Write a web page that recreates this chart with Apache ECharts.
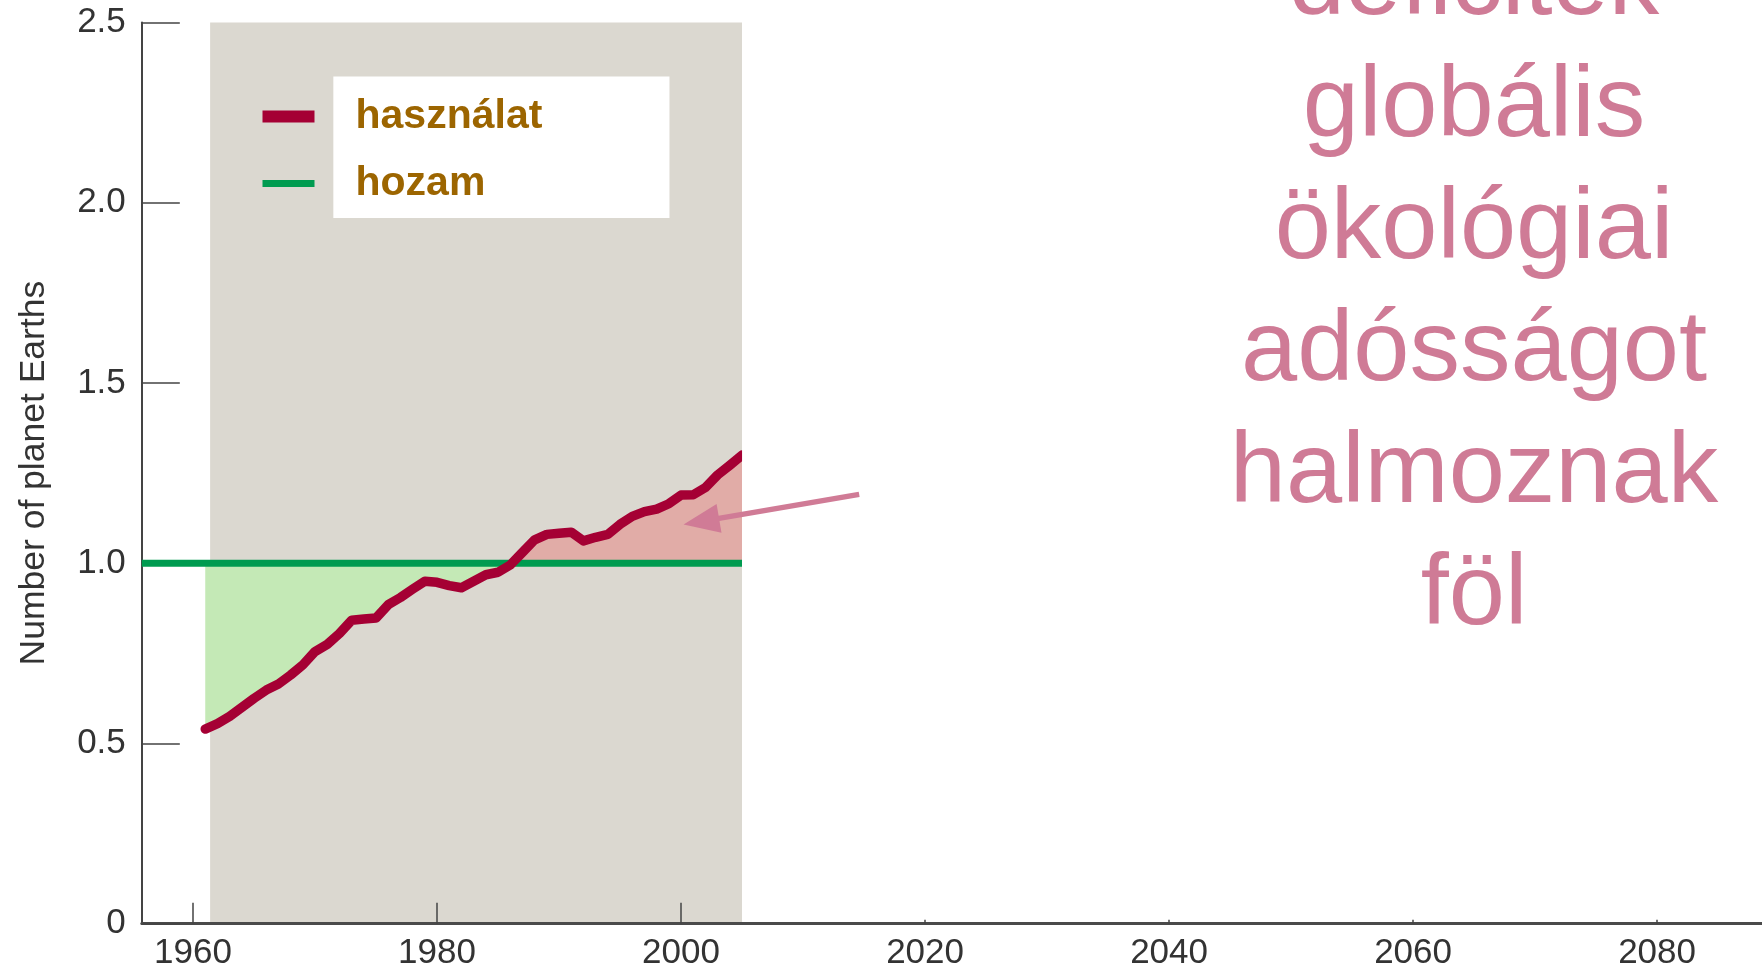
<!DOCTYPE html>
<html>
<head>
<meta charset="utf-8">
<script src="https://cdn.jsdelivr.net/npm/echarts@6/dist/echarts.min.js"></script>
<style>
  html, body { margin: 0; padding: 0; background: #ffffff; }
  #chart { width: 1762px; height: 969px; }
</style>
</head>
<body>
<div id="chart"></div>
<script>
// ---- data ----
const years = [1961,1962,1963,1964,1965,1966,1967,1968,1969,1970,
               1971,1972,1973,1974,1975,1976,1977,1978,1979,1980,
               1981,1982,1983,1984,1985,1986,1987,1988,1989,1990,
               1991,1992,1993,1994,1995,1996,1997,1998,1999,2000,
               2001,2002,2003,2004,2005];
const usage = [0.540,0.555,0.575,0.600,0.625,0.648,0.665,0.690,0.718,0.755,
               0.775,0.805,0.842,0.845,0.848,0.885,0.905,0.928,0.950,0.947,
               0.938,0.932,0.950,0.968,0.975,0.995,1.030,1.065,1.080,1.083,
               1.086,1.062,1.072,1.080,1.108,1.130,1.143,1.150,1.165,1.189,
               1.190,1.210,1.245,1.272,1.300];
const hozamYears = [1955.8, 2005];
const hozamValues = [1.0, 1.0];
const xTickYears = [1960, 1980, 2000, 2020, 2040, 2060, 2080];
const seriesNames = ['használat', 'hozam'];
const yAxisName = 'Number of planet Earths';
const sideText = ['deficitek', 'globális', 'ökológiai', 'adósságot', 'halmoznak', 'föl'];
const shadeSpan = [1961.4, 2005];          // grey period band (years)
const legendBoxCorners = [[1971.5, 1.958], [1999.05, 2.35]];
const arrowFrom = [2014.6, 1.191];
const arrowTo = [2001.66, 1.116];

// ---- derived series ----
const pair = (xs, ys) => xs.map((x, i) => [x, ys[i]]);
const level = hozamValues[0];
const belowLine = usage.map(v => Math.min(v, level));   // deficit-free part (green)
const aboveLine = usage.map(v => Math.max(v, level));   // overshoot part (pink)

const FONT = "'Liberation Sans', Arial, sans-serif";
const RED = '#a50034', GREEN = '#009b50';

const chart = echarts.init(document.getElementById('chart'), null, { renderer: 'canvas' });
const legendText = { fontFamily: FONT, fontWeight: 'bold', fontSize: 41, color: '#9c6500', padding: [0, 0, 0, 36] };

chart.setOption({
  animation: false,
  backgroundColor: '#ffffff',
  grid: { left: 141.8, right: 0, top: 22.5, bottom: 45.3, containLabel: false, outerBoundsMode: 'none' },
  xAxis: {
    type: 'value', min: 1955.8, max: 2088.6, z: 3,
    axisLine: { show: true, lineStyle: { color: '#4a4a4a', width: 3 } },
    axisTick: { show: true, inside: true, length: 21, customValues: xTickYears, lineStyle: { color: '#444', width: 1.5 } },
    axisLabel: { customValues: xTickYears, fontFamily: FONT, fontSize: 35, color: '#333', margin: 12,
                 formatter: v => String(v) },
    splitLine: { show: false }
  },
  yAxis: {
    type: 'value', min: 0, max: 2.5, interval: 0.5, z: 3,
    name: yAxisName, nameLocation: 'middle', nameGap: 90,
    nameTextStyle: { fontFamily: FONT, fontSize: 35.5, color: '#333' },
    axisLine: { show: true, lineStyle: { color: '#444', width: 2 } },
    axisTick: { show: true, inside: true, length: 38, lineStyle: { color: '#444', width: 1.5 } },
    axisLabel: { fontFamily: FONT, fontSize: 35, color: '#333', margin: 16,
                 formatter: v => v === 0 ? '0' : v.toFixed(1) },
    splitLine: { show: false }
  },
  legend: [
    { orient: 'vertical', left: 257.5, top: 91, itemWidth: 52, itemHeight: 12, icon: 'rect', z: 8,
      selectedMode: false, data: [seriesNames[0]], textStyle: legendText },
    { orient: 'vertical', left: 257.5, top: 158, itemWidth: 52, itemHeight: 7, icon: 'rect', z: 8,
      selectedMode: false, data: [seriesNames[1]], textStyle: legendText }
  ],
  series: [
    {
      name: 'background', type: 'line', z: 1, silent: true,
      data: pair(years, belowLine), symbol: 'none', lineStyle: { opacity: 0 },
      markArea: {
        silent: true, z: 1,
        data: [
          [{ coord: [shadeSpan[0], 0.005], itemStyle: { color: '#dbd8d0' } }, { coord: [shadeSpan[1], 2.51] }],
          [{ coord: legendBoxCorners[0], itemStyle: { color: '#ffffff' } }, { coord: legendBoxCorners[1] }]
        ]
      }
    },
    {
      name: 'below-fill', type: 'line', z: 2, silent: true,
      data: pair(years, belowLine), symbol: 'none', lineStyle: { opacity: 0 },
      areaStyle: { color: '#c4e9b6', opacity: 1, origin: level }
    },
    {
      name: 'above-fill', type: 'line', z: 2, silent: true,
      data: pair(years, aboveLine), symbol: 'none', lineStyle: { opacity: 0 },
      areaStyle: { color: '#e1aca7', opacity: 1, origin: level }
    },
    {
      name: seriesNames[1], type: 'line', z: 4,
      data: pair(hozamYears, hozamValues), symbol: 'none',
      itemStyle: { color: GREEN }, lineStyle: { color: GREEN, width: 7 }
    },
    {
      name: seriesNames[0], type: 'line', z: 5,
      data: pair(years, usage), symbol: 'none',
      itemStyle: { color: RED }, lineStyle: { color: RED, width: 9.5, join: 'round', cap: 'round' }
    },
    {
      name: 'cover', type: 'line', z: 6, silent: true,
      data: pair(hozamYears, hozamValues), symbol: 'none', lineStyle: { opacity: 0 },
      markArea: {
        silent: true, z: 6,
        data: [
          [{ coord: [shadeSpan[1], 0.011], itemStyle: { color: '#ffffff' } }, { coord: [2088.6, 2.5] }]
        ]
      },
      markLine: {
        silent: true, animation: false, z: 7,
        label: { show: false },
        lineStyle: { color: '#d07b96', width: 5.5, type: 'solid' },
        data: [[
          { coord: arrowFrom, symbol: 'none' },
          { coord: arrowTo, symbol: 'triangle', symbolSize: [29, 36] }
        ]]
      }
    }
  ],
  graphic: [{
    type: 'text', x: 1474, y: -75, silent: true, z: 10,
    style: {
      text: sideText.join('\n'), fill: '#cf7b96',
      fontSize: 101, fontFamily: FONT, lineHeight: 122, align: 'center', verticalAlign: 'top'
    }
  }]
});
</script>
</body>
</html>
